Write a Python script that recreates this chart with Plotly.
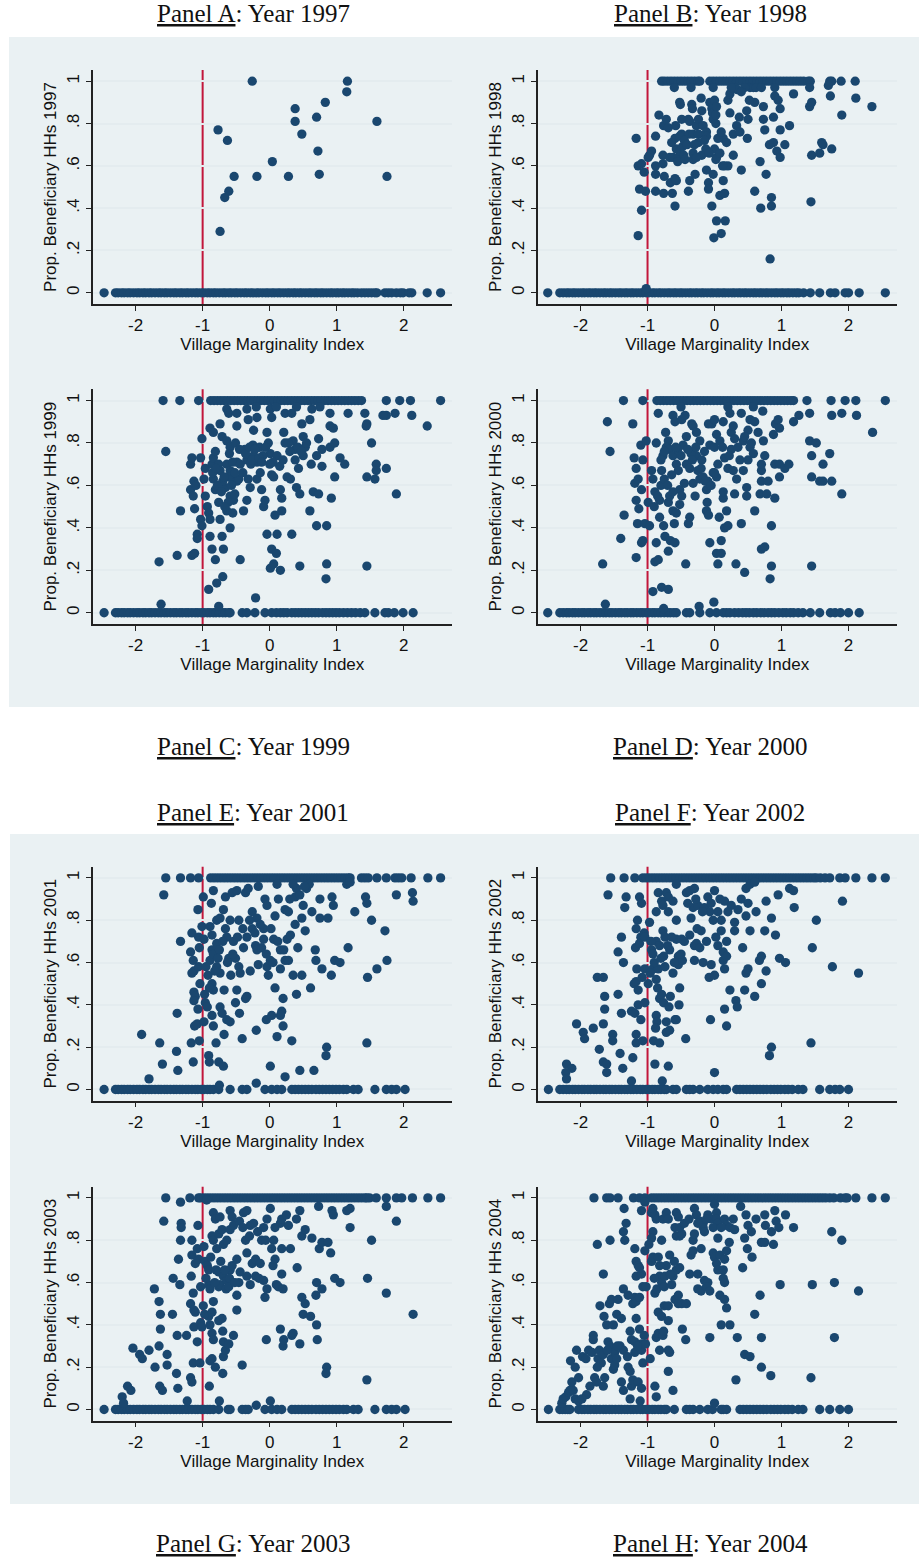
import plotly.graph_objects as go

# ---------------- DATA ----------------
# x = Village Marginality Index, y = proportion of beneficiary households

# ----- Panel A : 1997 -----
a_zero_x = [-2.47, -2.30, -2.26, -2.21, -2.17, -2.12, -2.08, -2.03, -1.98, -1.94, -1.89, -1.85, -1.80, -1.76,
            -1.71, -1.66, -1.62, -1.57, -1.53, -1.48, -1.43, -1.39, -1.34, -1.30, -1.25, -1.21, -1.16, -1.11,
            -1.07, -1.02, -0.98, -0.93, -0.89, -0.84, -0.80, -0.75, -0.70, -0.66, -0.61, -0.57, -0.52, -0.48,
            -0.43, -0.38, -0.34, -0.29, -0.25, -0.20, -0.16, -0.11, -0.06, -0.02, 0.03, 0.07, 0.12, 0.16, 0.21,
            0.26, 0.30, 0.35, 0.39, 0.44, 0.48, 0.53, 0.58, 0.62, 0.67, 0.71, 0.76, 0.80, 0.85, 0.90, 0.94, 0.99,
            1.03, 1.08, 1.12, 1.17, 1.22, 1.26, 1.31, 1.37, 1.42, 1.47, 1.52, 1.57, 1.60, 1.72, 1.77, 1.82, 1.89,
            1.95, 1.99, 2.08, 2.12, 2.35, 2.55]
a_one_x = []
a_mid = [(-0.26, 1.0), (1.16, 1.0), (1.15, 0.95), (0.38, 0.87), (0.83, 0.90), (0.38, 0.81), (0.70, 0.83),
         (0.48, 0.75), (1.60, 0.81), (-0.77, 0.77), (-0.63, 0.72), (0.72, 0.67), (0.04, 0.62), (-0.53, 0.55),
         (-0.19, 0.55), (0.28, 0.55), (0.74, 0.56), (1.75, 0.55), (-0.61, 0.48), (-0.67, 0.45), (-0.74, 0.29)]

# ----- Panel B : 1998 -----
b_zero_x = [-2.49, -2.31, -2.26, -2.21, -2.17, -2.12, -2.08, -2.03, -1.98, -1.94, -1.89, -1.85, -1.80, -1.76,
            -1.71, -1.66, -1.62, -1.57, -1.53, -1.48, -1.43, -1.39, -1.34, -1.30, -1.25, -1.21, -1.16, -1.11,
            -1.07, -1.02, -0.98, -0.93, -0.89, -0.84, -0.80, -0.75, -0.70, -0.66, -0.61, -0.57, -0.52, -0.48,
            -0.43, -0.38, -0.34, -0.29, -0.25, -0.20, -0.16, -0.11, -0.06, -0.02, 0.03, 0.07, 0.12, 0.16, 0.21,
            0.26, 0.30, 0.35, 0.39, 0.44, 0.48, 0.53, 0.58, 0.62, 0.67, 0.71, 0.76, 0.80, 0.85, 0.90, 0.94, 0.99,
            1.03, 1.08, 1.12, 1.17, 1.22, 1.26, 1.33, 1.43, 1.57, 1.73, 1.80, 1.95, 2.00, 2.16, 2.55]
b_one_x = [-0.79, -0.75, -0.70, -0.65, -0.60, -0.55, -0.50, -0.45, -0.40, -0.35, -0.30, -0.25, -0.22, -0.07,
           -0.02, 0.03, 0.08, 0.13, 0.18, 0.23, 0.28, 0.33, 0.38, 0.43, 0.48, 0.53, 0.58, 0.63, 0.68, 0.73, 0.78,
           0.83, 0.88, 0.93, 0.98, 1.03, 1.08, 1.13, 1.18, 1.23, 1.28, 1.33, 1.40, 1.43, 1.72, 1.75, 1.89, 2.10]
b_mid = [(-1.17, 0.73), (-1.14, 0.60), (-1.09, 0.61), (-1.05, 0.57), (-1.12, 0.49), (-1.03, 0.48), (-1.09, 0.39),
         (-1.14, 0.27), (-0.94, 0.67), (-0.97, 0.65), (-0.99, 0.64), (-0.88, 0.74), (-0.83, 0.84), (-0.88, 0.60),
         (-0.88, 0.56), (-0.88, 0.48), (-0.77, 0.65), (-0.77, 0.61), (-0.76, 0.79), (-0.72, 0.82), (-0.75, 0.55),
         (-0.76, 0.47), (-0.69, 0.78), (-0.67, 0.64), (-0.66, 0.52), (-0.63, 0.47), (-0.59, 0.54), (-0.57, 0.53),
         (-0.59, 0.41), (-0.62, 0.64), (-0.57, 0.68), (-0.54, 0.64), (-0.52, 0.67), (-0.58, 0.79), (-0.59, 0.73),
         (-0.52, 0.90), (-0.51, 0.89), (-0.49, 0.82), (-0.49, 0.75), (-0.52, 0.74), (-0.48, 0.69), (-0.46, 0.65),
         (-0.39, 0.82), (-0.37, 0.81), (-0.38, 0.75), (-0.39, 0.48), (-0.37, 0.53), (-0.34, 0.89), (-0.33, 0.87),
         (-0.32, 0.75), (-0.32, 0.66), (-0.32, 0.63), (-0.29, 0.56), (-0.27, 0.79), (-0.24, 0.82), (-0.24, 0.75),
         (-0.24, 0.71), (-0.20, 0.92), (-0.19, 0.86), (-0.19, 0.65), (-0.17, 0.79), (-0.12, 0.76), (-0.12, 0.74),
         (-0.13, 0.68), (-0.12, 0.58), (-0.09, 0.52), (-0.09, 0.49), (-0.07, 0.90), (-0.04, 0.87), (-0.03, 0.85),
         (-0.02, 0.82), (-0.02, 0.56), (-0.04, 0.41), (0.00, 0.91), (0.03, 0.88), (0.02, 0.84), (0.02, 0.80),
         (-0.02, 0.97), (0.00, 0.68), (0.03, 0.64), (0.02, 0.63), (0.03, 0.34), (-0.01, 0.26), (0.10, 0.28),
         (0.16, 0.34), (0.08, 0.46), (0.13, 0.53), (0.15, 0.47), (0.13, 0.73), (0.18, 0.71), (0.15, 0.60),
         (0.20, 0.60), (0.20, 0.91), (0.23, 0.85), (0.23, 0.94), (0.28, 0.65), (0.28, 0.75), (0.30, 0.97),
         (0.34, 0.96), (0.33, 0.79), (0.37, 0.83), (0.38, 0.76), (0.40, 0.58), (0.48, 0.86), (0.50, 0.82),
         (0.49, 0.73), (0.53, 0.97), (0.58, 0.97), (0.60, 0.90), (0.52, 0.91), (0.60, 0.48), (0.68, 0.62),
         (0.73, 0.88), (0.73, 0.82), (0.75, 0.77), (0.77, 0.56), (0.82, 0.70), (0.88, 0.71), (0.88, 0.83),
         (0.90, 0.93), (0.95, 0.91), (0.93, 0.67), (0.98, 0.64), (0.98, 0.77), (0.98, 0.87), (0.85, 0.45),
         (0.85, 0.41), (0.69, 0.40), (0.83, 0.16), (1.05, 0.70), (1.12, 0.79), (1.18, 0.94), (1.42, 0.97),
         (1.42, 0.88), (1.45, 0.90), (1.45, 0.65), (1.57, 0.66), (1.60, 0.71), (1.62, 0.70), (1.75, 0.68),
         (1.44, 0.43), (1.70, 0.98), (1.73, 0.93), (1.90, 0.84), (2.11, 0.92), (2.35, 0.88), (-1.02, 0.02),
         (-0.45, 0.72), (-0.41, 0.70), (-0.30, 0.70), (-0.15, 0.72), (-0.64, 0.71), (-0.55, 0.62), (-0.44, 0.63),
         (-0.27, 0.64), (-0.08, 0.66), (0.05, 0.73), (0.08, 0.66), (0.12, 0.60), (0.25, 0.97), (0.45, 0.97),
         (0.62, 0.97), (0.10, 0.76), (-0.60, 0.97), (-0.35, 0.97), (0.70, 0.97), (0.90, 0.97), (0.40, 0.95)]

# ----- Panel C : 1999 -----
c_zero_x = [-2.47, -2.30, -2.26, -2.21, -2.17, -2.12, -2.08, -2.03, -1.98, -1.94, -1.89, -1.85, -1.80, -1.76,
            -1.71, -1.66, -1.62, -1.57, -1.53, -1.48, -1.43, -1.39, -1.34, -1.30, -1.25, -1.21, -1.16, -1.11,
            -1.07, -1.02, -0.98, -0.93, -0.89, -0.84, -0.80, -0.75, -0.70, -0.66, -0.61, -0.59, -0.41, -0.34,
            -0.22, -0.07, 0.03, 0.10, 0.16, 0.21, 0.26, 0.33, 0.38, 0.43, 0.48, 0.53, 0.58, 0.63, 0.68, 0.73,
            0.79, 0.84, 0.89, 0.94, 0.99, 1.04, 1.10, 1.16, 1.22, 1.28, 1.35, 1.42, 1.57, 1.72, 1.77, 1.86,
            1.99, 2.14]
c_one_x = [-1.59, -1.34, -1.06, -0.88, -0.83, -0.78, -0.73, -0.68, -0.63, -0.58, -0.53, -0.48, -0.43, -0.38,
           -0.33, -0.28, -0.23, -0.18, -0.13, -0.08, -0.03, 0.02, 0.07, 0.12, 0.17, 0.22, 0.27, 0.32, 0.37, 0.42,
           0.47, 0.52, 0.57, 0.62, 0.67, 0.72, 0.77, 0.82, 0.87, 0.92, 0.97, 1.02, 1.07, 1.12, 1.17, 1.22, 1.27,
           1.32, 1.37, 1.74, 1.94, 2.10, 2.55]
c_mid = [(-1.65, 0.24), (-1.55, 0.76), (-1.33, 0.48), (-1.38, 0.27), (-1.18, 0.70), (-1.16, 0.73), (-1.18, 0.58),
         (-1.13, 0.62), (-1.10, 0.60), (-1.14, 0.55), (-1.12, 0.49), (-1.16, 0.27), (-1.12, 0.28), (-1.08, 0.37),
         (-1.08, 0.35), (-1.03, 0.73), (-1.01, 0.82), (-1.03, 0.44), (-1.01, 0.41), (-0.98, 0.63), (-0.96, 0.68),
         (-0.96, 0.55), (-0.93, 0.50), (-0.91, 0.47), (-0.89, 0.44), (-0.91, 0.11), (-0.89, 0.87), (-0.84, 0.85),
         (-0.86, 0.70), (-0.84, 0.73), (-0.89, 0.36), (-0.86, 0.30), (-0.81, 0.76), (-0.84, 0.63), (-0.81, 0.58),
         (-0.81, 0.25), (-0.79, 0.14), (-0.76, 0.03), (-0.74, 0.89), (-0.71, 0.83), (-0.76, 0.70), (-0.74, 0.67),
         (-0.76, 0.52), (-0.74, 0.44), (-0.71, 0.36), (-0.69, 0.30), (-0.70, 0.17), (-0.64, 0.96), (-0.61, 0.94),
         (-0.64, 0.81), (-0.59, 0.78), (-0.64, 0.70), (-0.59, 0.67), (-0.61, 0.64), (-0.56, 0.63), (-0.59, 0.55),
         (-0.54, 0.53), (-0.64, 0.48), (-0.59, 0.40), (-0.49, 0.94), (-0.49, 0.88), (-0.51, 0.80), (-0.49, 0.71),
         (-0.49, 0.62), (-0.46, 0.63), (-0.44, 0.25), (-0.39, 0.48), (-0.34, 0.53), (-0.37, 0.77), (-0.34, 0.72),
         (-0.34, 0.96), (-0.32, 0.91), (-0.32, 0.63), (-0.29, 0.59), (-0.24, 0.86), (-0.19, 0.92), (-0.24, 0.74),
         (-0.19, 0.71), (-0.19, 0.63), (-0.21, 0.07), (-0.14, 0.66), (-0.12, 0.58), (-0.09, 0.50), (-0.07, 0.53),
         (-0.04, 0.85), (-0.02, 0.80), (0.01, 0.75), (-0.04, 0.37), (0.01, 0.96), (0.03, 0.92), (0.03, 0.65),
         (0.06, 0.64), (0.01, 0.21), (0.06, 0.23), (0.03, 0.30), (0.10, 0.28), (0.08, 0.46), (0.11, 0.37),
         (0.16, 0.20), (0.11, 0.74), (0.15, 0.69), (0.16, 0.58), (0.18, 0.54), (0.18, 0.48), (0.21, 0.85),
         (0.23, 0.80), (0.23, 0.94), (0.33, 0.94), (0.26, 0.64), (0.31, 0.63), (0.33, 0.37), (0.35, 0.81),
         (0.38, 0.77), (0.40, 0.59), (0.45, 0.56), (0.43, 0.68), (0.45, 0.22), (0.48, 0.89), (0.50, 0.83),
         (0.53, 0.78), (0.50, 0.74), (0.60, 0.91), (0.63, 0.96), (0.60, 0.48), (0.65, 0.57), (0.73, 0.56),
         (0.70, 0.41), (0.70, 0.74), (0.73, 0.82), (0.78, 0.77), (0.78, 0.69), (0.85, 0.41), (0.85, 0.23),
         (0.84, 0.16), (0.90, 0.94), (0.90, 0.88), (0.95, 0.87), (0.90, 0.78), (0.97, 0.80), (0.92, 0.54),
         (0.97, 0.64), (1.05, 0.73), (1.12, 0.70), (1.17, 0.94), (1.42, 0.94), (1.45, 0.89), (1.44, 0.88),
         (1.45, 0.64), (1.57, 0.63), (1.59, 0.70), (1.59, 0.67), (1.52, 0.80), (1.45, 0.22), (1.74, 0.93),
         (1.69, 0.93), (1.74, 0.68), (1.87, 0.94), (1.89, 0.56), (2.12, 0.93), (2.35, 0.88), (-1.62, 0.04),
         (-0.55, 0.71), (-0.45, 0.77), (-0.25, 0.79), (-0.10, 0.74), (-0.66, 0.59), (-0.52, 0.56), (-0.28, 0.70),
         (0.05, 0.71), (0.38, 0.72), (0.55, 0.80), (-0.70, 0.62), (-0.40, 0.66), (-0.15, 0.78), (0.28, 0.80),
         (0.62, 0.70), (0.40, 0.97), (-0.20, 0.97), (0.75, 0.97), (0.10, 0.97), (-0.60, 0.75)]
c_mid_core = [(-0.85, 0.66), (-0.78, 0.60), (-0.72, 0.57), (-0.68, 0.64), (-0.62, 0.52), (-0.57, 0.60),
              (-0.52, 0.66), (-0.44, 0.70), (-0.36, 0.75), (-0.30, 0.78), (-0.26, 0.72), (-0.22, 0.77),
              (-0.16, 0.73), (-0.12, 0.71), (-0.06, 0.78), (0.00, 0.70), (0.20, 0.72), (0.30, 0.76),
              (0.42, 0.78), (0.47, 0.76), (-0.80, 0.68), (-0.67, 0.50), (-0.55, 0.47)]

# ----- Panel D : 2000 -----
d_zero_x = [-2.49, -2.31, -2.26, -2.21, -2.17, -2.12, -2.08, -2.03, -1.98, -1.94, -1.89, -1.85, -1.80, -1.76,
            -1.71, -1.66, -1.62, -1.57, -1.53, -1.48, -1.43, -1.39, -1.34, -1.30, -1.25, -1.21, -1.16, -1.11,
            -1.07, -1.02, -0.98, -0.93, -0.89, -0.84, -0.80, -0.75, -0.70, -0.66, -0.61, -0.57, -0.42, -0.37,
            -0.22, -0.07, 0.03, 0.13, 0.18, 0.23, 0.30, 0.36, 0.42, 0.47, 0.52, 0.58, 0.63, 0.69, 0.74, 0.80,
            0.85, 0.90, 0.96, 1.02, 1.07, 1.13, 1.18, 1.25, 1.32, 1.43, 1.57, 1.73, 1.80, 1.88, 2.00, 2.16]
d_one_x = [-1.36, -1.07, -0.86, -0.81, -0.76, -0.71, -0.66, -0.61, -0.56, -0.51, -0.46, -0.41, -0.36, -0.31,
           -0.26, -0.21, -0.16, -0.11, -0.06, -0.01, 0.04, 0.09, 0.14, 0.19, 0.24, 0.29, 0.34, 0.39, 0.44, 0.49,
           0.54, 0.59, 0.64, 0.69, 0.74, 0.79, 0.84, 0.89, 0.94, 0.99, 1.04, 1.09, 1.14, 1.18, 1.38, 1.74, 1.95,
           2.11, 2.55]
d_mid = [(-1.67, 0.23), (-1.60, 0.90), (-1.56, 0.76), (-1.40, 0.35), (-1.35, 0.46), (-1.22, 0.89), (-1.20, 0.73),
         (-1.17, 0.68), (-1.19, 0.61), (-1.14, 0.63), (-1.17, 0.53), (-1.13, 0.49), (-1.15, 0.42), (-1.17, 0.26),
         (-1.09, 0.58), (-1.10, 0.79), (-1.09, 0.33), (-1.07, 0.34), (-1.07, 0.72), (-1.02, 0.81), (-1.04, 0.42),
         (-0.99, 0.52), (-0.97, 0.41), (-0.94, 0.67), (-0.92, 0.63), (-0.89, 0.57), (-0.92, 0.10), (-0.79, 0.12),
         (-0.69, 0.11), (-0.89, 0.24), (-0.87, 0.33), (-0.84, 0.25), (-0.87, 0.80), (-0.84, 0.94), (-0.82, 0.45),
         (-0.82, 0.53), (-0.79, 0.67), (-0.77, 0.74), (-0.76, 0.41), (-0.74, 0.36), (-0.73, 0.85), (-0.69, 0.81),
         (-0.72, 0.78), (-0.67, 0.77), (-0.69, 0.52), (-0.67, 0.55), (-0.69, 0.29), (-0.66, 0.34), (-0.62, 0.93),
         (-0.59, 0.90), (-0.62, 0.74), (-0.57, 0.70), (-0.62, 0.48), (-0.57, 0.47), (-0.59, 0.33), (-0.54, 0.67),
         (-0.52, 0.58), (-0.49, 0.55), (-0.52, 0.51), (-0.49, 0.91), (-0.44, 0.93), (-0.47, 0.79), (-0.42, 0.83),
         (-0.42, 0.70), (-0.37, 0.68), (-0.39, 0.42), (-0.37, 0.45), (-0.43, 0.23), (-0.34, 0.89), (-0.32, 0.88),
         (-0.32, 0.61), (-0.29, 0.55), (-0.27, 0.85), (-0.22, 0.81), (-0.27, 0.74), (-0.19, 0.72), (-0.23, 0.03),
         (-0.22, 0.63), (-0.17, 0.64), (-0.12, 0.58), (-0.11, 0.52), (-0.12, 0.48), (-0.09, 0.46), (-0.09, 0.89),
         (-0.04, 0.89), (-0.07, 0.79), (0.00, 0.78), (-0.07, 0.33), (-0.02, 0.66), (0.03, 0.64), (0.00, 0.91),
         (-0.01, 0.05), (0.03, 0.84), (0.08, 0.81), (0.05, 0.23), (0.03, 0.28), (0.10, 0.28), (0.07, 0.45),
         (0.13, 0.54), (0.13, 0.57), (0.10, 0.34), (0.13, 0.90), (0.15, 0.73), (0.20, 0.68), (0.15, 0.40),
         (0.20, 0.41), (0.18, 0.48), (0.23, 0.94), (0.25, 0.85), (0.28, 0.88), (0.25, 0.77), (0.28, 0.67),
         (0.30, 0.56), (0.32, 0.23), (0.33, 0.63), (0.38, 0.72), (0.40, 0.42), (0.40, 0.94), (0.43, 0.81),
         (0.43, 0.67), (0.45, 0.19), (0.48, 0.59), (0.48, 0.55), (0.50, 0.86), (0.53, 0.91), (0.53, 0.78),
         (0.58, 0.75), (0.60, 0.48), (0.60, 0.90), (0.58, 0.97), (0.68, 0.56), (0.70, 0.67), (0.70, 0.70),
         (0.70, 0.62), (0.78, 0.56), (0.70, 0.30), (0.75, 0.31), (0.73, 0.81), (0.75, 0.74), (0.72, 0.95),
         (0.80, 0.62), (0.85, 0.41), (0.85, 0.22), (0.83, 0.16), (0.90, 0.54), (0.88, 0.84), (0.91, 0.89),
         (0.95, 0.91), (0.97, 0.87), (0.90, 0.70), (0.97, 0.70), (0.97, 0.64), (1.05, 0.68), (1.11, 0.70),
         (1.18, 0.90), (1.26, 0.93), (1.42, 0.94), (1.45, 0.74), (1.45, 0.64), (1.42, 0.81), (1.52, 0.80),
         (1.57, 0.62), (1.62, 0.62), (1.62, 0.70), (1.72, 0.75), (1.75, 0.62), (1.45, 0.22), (1.75, 0.93),
         (1.90, 0.94), (1.90, 0.56), (2.12, 0.93), (2.36, 0.85), (-0.76, 0.02), (-1.63, 0.04), (-0.80, 0.60),
         (-0.75, 0.63), (-0.55, 0.77), (-0.35, 0.75), (-0.25, 0.67), (-0.15, 0.76), (0.05, 0.70), (-0.62, 0.57),
         (-0.45, 0.61), (0.35, 0.78), (0.50, 0.72), (0.20, 0.97), (-0.50, 0.97), (0.65, 0.85), (-0.10, 0.62)]
d_mid_core = [(-0.85, 0.55), (-0.80, 0.72), (-0.75, 0.76), (-0.70, 0.60), (-0.64, 0.65), (-0.58, 0.78),
              (-0.50, 0.74), (-0.40, 0.77), (-0.33, 0.72), (-0.28, 0.78), (-0.20, 0.68), (-0.14, 0.62),
              (-0.05, 0.60), (0.00, 0.66), (0.12, 0.78), (0.22, 0.74), (0.30, 0.82), (0.45, 0.83),
              (0.55, 0.80), (-0.90, 0.50), (-0.60, 0.42)]

# ----- Panel E : 2001 -----
e_zero_x = [-2.47, -2.30, -2.26, -2.21, -2.17, -2.12, -2.08, -2.03, -1.98, -1.94, -1.89, -1.85, -1.80, -1.76,
            -1.71, -1.66, -1.62, -1.57, -1.53, -1.48, -1.43, -1.39, -1.34, -1.30, -1.25, -1.21, -1.16, -1.11,
            -1.07, -1.02, -0.98, -0.93, -0.89, -0.84, -0.76, -0.59, -0.41, -0.34, -0.07, 0.03, 0.11, 0.18, 0.33,
            0.38, 0.43, 0.48, 0.53, 0.58, 0.63, 0.69, 0.74, 0.79, 0.84, 0.89, 0.94, 0.99, 1.04, 1.10, 1.15, 1.25,
            1.32, 1.57, 1.74, 1.82, 1.89, 2.02]
e_one_x = [-1.55, -1.33, -1.18, -1.06, -0.88, -0.83, -0.78, -0.73, -0.68, -0.63, -0.58, -0.53, -0.48, -0.43,
           -0.38, -0.33, -0.28, -0.23, -0.18, -0.13, -0.08, -0.03, 0.02, 0.07, 0.12, 0.17, 0.22, 0.27, 0.32, 0.37,
           0.42, 0.47, 0.52, 0.57, 0.62, 0.67, 0.72, 0.77, 0.82, 0.87, 0.92, 0.97, 1.02, 1.07, 1.12, 1.17, 1.20,
           1.37, 1.42, 1.47, 1.60, 1.74, 1.87, 1.92, 1.97, 2.11, 2.36, 2.55]
e_mid = [(-1.91, 0.26), (-1.80, 0.05), (-1.64, 0.22), (-1.60, 0.12), (-1.58, 0.92), (-1.39, 0.18), (-1.37, 0.09),
         (-1.33, 0.70), (-1.38, 0.36), (-1.17, 0.22), (-1.14, 0.13), (-1.18, 0.65), (-1.16, 0.74), (-1.14, 0.61),
         (-1.13, 0.56), (-1.16, 0.55), (-1.13, 0.46), (-1.11, 0.44), (-1.13, 0.42), (-1.12, 0.30), (-1.08, 0.31),
         (-1.07, 0.85), (-1.06, 0.72), (-1.05, 0.67), (-1.05, 0.23), (-1.06, 0.58), (-1.04, 0.50), (-1.07, 0.38),
         (-0.99, 0.91), (-1.01, 0.77), (-0.98, 0.71), (-0.98, 0.32), (-0.96, 0.41), (-0.93, 0.39), (-0.91, 0.16),
         (-0.90, 0.13), (-0.92, 0.54), (-0.89, 0.61), (-0.89, 0.77), (-0.86, 0.73), (-0.86, 0.66), (-0.84, 0.64),
         (-0.86, 0.50), (-0.84, 0.47), (-0.87, 0.88), (-0.84, 0.94), (-0.86, 0.35), (-0.84, 0.30), (-0.80, 0.22),
         (-0.79, 0.80), (-0.74, 0.81), (-0.79, 0.69), (-0.75, 0.66), (-0.79, 0.58), (-0.74, 0.55), (-0.76, 0.13),
         (-0.69, 0.11), (-0.74, 0.39), (-0.71, 0.36), (-0.75, 0.02), (-0.69, 0.85), (-0.66, 0.91), (-0.66, 0.76),
         (-0.64, 0.72), (-0.68, 0.47), (-0.64, 0.33), (-0.68, 0.26), (-0.61, 0.62), (-0.58, 0.54), (-0.59, 0.80),
         (-0.54, 0.70), (-0.59, 0.32), (-0.56, 0.93), (-0.49, 0.94), (-0.51, 0.62), (-0.46, 0.58), (-0.49, 0.47),
         (-0.51, 0.41), (-0.46, 0.80), (-0.44, 0.55), (-0.45, 0.36), (-0.41, 0.24), (-0.36, 0.43), (-0.34, 0.44),
         (-0.39, 0.67), (-0.34, 0.72), (-0.36, 0.93), (-0.32, 0.95), (-0.29, 0.56), (-0.26, 0.76), (-0.26, 0.84),
         (-0.19, 0.81), (-0.21, 0.68), (-0.19, 0.66), (-0.20, 0.28), (-0.20, 0.03), (-0.17, 0.59), (-0.12, 0.67),
         (-0.17, 0.96), (-0.09, 0.76), (-0.09, 0.71), (-0.07, 0.90), (-0.04, 0.87), (-0.04, 0.58), (-0.02, 0.54),
         (0.01, 0.61), (-0.05, 0.33), (0.03, 0.35), (0.01, 0.11), (0.02, 0.76), (0.06, 0.71), (0.08, 0.82),
         (0.11, 0.97), (0.08, 0.48), (0.11, 0.25), (0.13, 0.90), (0.16, 0.57), (0.16, 0.66), (0.18, 0.37),
         (0.16, 0.35), (0.20, 0.30), (0.20, 0.43), (0.21, 0.66), (0.23, 0.61), (0.23, 0.06), (0.23, 0.85),
         (0.28, 0.84), (0.26, 0.71), (0.31, 0.73), (0.28, 0.61), (0.33, 0.23), (0.35, 0.54), (0.38, 0.91),
         (0.40, 0.95), (0.38, 0.78), (0.42, 0.67), (0.40, 0.45), (0.45, 0.09), (0.48, 0.54), (0.48, 0.81),
         (0.50, 0.87), (0.53, 0.75), (0.55, 0.95), (0.59, 0.97), (0.63, 0.84), (0.61, 0.48), (0.68, 0.66),
         (0.69, 0.61), (0.66, 0.09), (0.75, 0.90), (0.75, 0.81), (0.78, 0.57), (0.87, 0.81), (0.85, 0.20),
         (0.84, 0.16), (0.92, 0.54), (0.93, 0.91), (0.95, 0.87), (0.97, 0.61), (1.05, 0.60), (1.15, 0.97),
         (1.20, 0.98), (1.17, 0.67), (1.27, 0.84), (1.43, 0.91), (1.45, 0.88), (1.46, 0.53), (1.52, 0.80),
         (1.45, 0.22), (1.60, 0.57), (1.72, 0.75), (1.75, 0.61), (1.89, 0.92), (2.13, 0.93), (2.14, 0.89)]
e_mid_core = [(-0.95, 0.58), (-0.90, 0.48), (-0.82, 0.56), (-0.77, 0.62), (-0.70, 0.70), (-0.63, 0.60),
              (-0.55, 0.64), (-0.48, 0.72), (-0.40, 0.76), (-0.30, 0.80), (-0.22, 0.74), (-0.14, 0.78),
              (-0.05, 0.64), (0.05, 0.60), (0.12, 0.70), (0.30, 0.90), (0.45, 0.92), (0.52, 0.96),
              (0.35, 0.97), (-0.97, 0.45)]

# ----- Panel F : 2002 -----
f_zero_x = [-2.48, -2.31, -2.26, -2.21, -2.17, -2.12, -2.08, -2.03, -1.98, -1.94, -1.89, -1.85, -1.80, -1.76,
            -1.71, -1.66, -1.62, -1.57, -1.53, -1.48, -1.43, -1.39, -1.34, -1.30, -1.25, -1.21, -1.16, -1.11,
            -1.07, -1.02, -0.98, -0.93, -0.89, -0.84, -0.80, -0.75, -0.72, -0.62, -0.57, -0.42, -0.37, -0.32,
            -0.22, -0.10, -0.02, 0.05, 0.13, 0.18, 0.33, 0.38, 0.43, 0.48, 0.53, 0.58, 0.63, 0.68, 0.73, 0.78,
            0.84, 0.89, 0.94, 0.99, 1.05, 1.10, 1.16, 1.25, 1.32, 1.57, 1.72, 1.80, 1.87, 2.00]
f_one_x = [-1.55, -1.35, -1.19, -1.07, -1.02, -0.97, -0.92, -0.87, -0.82, -0.77, -0.72, -0.67, -0.62, -0.57,
           -0.52, -0.47, -0.42, -0.37, -0.32, -0.27, -0.22, -0.17, -0.12, -0.07, -0.02, 0.03, 0.08, 0.13, 0.18,
           0.23, 0.28, 0.33, 0.38, 0.43, 0.48, 0.53, 0.58, 0.63, 0.68, 0.73, 0.78, 0.83, 0.88, 0.93, 0.98, 1.03,
           1.08, 1.13, 1.18, 1.23, 1.28, 1.33, 1.38, 1.43, 1.48, 1.52, 1.58, 1.65, 1.72, 1.87, 1.95, 2.11, 2.35,
           2.55]
f_mid = [(-2.21, 0.12), (-2.13, 0.10), (-2.22, 0.08), (-2.21, 0.05), (-2.06, 0.31), (-1.96, 0.27), (-1.94, 0.24),
         (-1.81, 0.29), (-1.75, 0.53), (-1.66, 0.53), (-1.72, 0.19), (-1.66, 0.31), (-1.64, 0.44), (-1.64, 0.38),
         (-1.66, 0.13), (-1.61, 0.12), (-1.61, 0.08), (-1.59, 0.92), (-1.52, 0.26), (-1.52, 0.23), (-1.44, 0.65),
         (-1.44, 0.45), (-1.41, 0.17), (-1.39, 0.72), (-1.39, 0.36), (-1.36, 0.60), (-1.37, 0.10), (-1.34, 0.86),
         (-1.32, 0.91), (-1.24, 0.04), (-1.22, 0.15), (-1.24, 0.37), (-1.19, 0.36), (-1.20, 0.50), (-1.17, 0.51),
         (-1.18, 0.67), (-1.16, 0.57), (-1.17, 0.76), (-1.15, 0.80), (-1.17, 0.26), (-1.17, 0.22), (-1.14, 0.47),
         (-1.14, 0.40), (-1.12, 0.91), (-1.09, 0.88), (-1.12, 0.69), (-1.10, 0.72), (-1.10, 0.33), (-1.08, 0.53),
         (-1.07, 0.23), (-1.05, 0.74), (-1.04, 0.72), (-1.04, 0.57), (-1.04, 0.41), (-0.99, 0.50), (-0.97, 0.79),
         (-0.94, 0.66), (-0.92, 0.64), (-0.92, 0.57), (-0.91, 0.23), (-0.89, 0.12), (-0.82, 0.22), (-0.87, 0.35),
         (-0.86, 0.32), (-0.88, 0.29), (-0.87, 0.52), (-0.84, 0.57), (-0.87, 0.84), (-0.84, 0.93), (-0.87, 0.70),
         (-0.82, 0.68), (-0.82, 0.43), (-0.79, 0.45), (-0.79, 0.89), (-0.77, 0.87), (-0.78, 0.04), (-0.77, 0.75),
         (-0.74, 0.72), (-0.76, 0.63), (-0.74, 0.58), (-0.76, 0.41), (-0.72, 0.93), (-0.69, 0.91), (-0.72, 0.32),
         (-0.72, 0.27), (-0.67, 0.28), (-0.69, 0.11), (-0.68, 0.39), (-0.66, 0.44), (-0.69, 0.84), (-0.62, 0.89),
         (-0.67, 0.66), (-0.62, 0.55), (-0.59, 0.33), (-0.57, 0.33), (-0.57, 0.97), (-0.57, 0.80), (-0.57, 0.71),
         (-0.54, 0.63), (-0.54, 0.59), (-0.52, 0.61), (-0.52, 0.48), (-0.53, 0.40), (-0.49, 0.71), (-0.48, 0.61),
         (-0.42, 0.93), (-0.37, 0.94), (-0.43, 0.24), (-0.37, 0.73), (-0.35, 0.81), (-0.32, 0.86), (-0.30, 0.95),
         (-0.30, 0.68), (-0.30, 0.61), (-0.27, 0.69), (-0.26, 0.76), (-0.25, 0.87), (-0.22, 0.67), (-0.20, 0.75),
         (-0.17, 0.60), (-0.15, 0.86), (-0.12, 0.70), (-0.10, 0.91), (-0.07, 0.84), (-0.08, 0.53), (-0.05, 0.59),
         (-0.06, 0.33), (-0.02, 0.80), (0.00, 0.94), (0.00, 0.54), (0.00, 0.08), (0.02, 0.72), (0.05, 0.68),
         (0.08, 0.90), (0.10, 0.80), (0.10, 0.75), (0.13, 0.65), (0.13, 0.61), (0.15, 0.57), (0.15, 0.38),
         (0.18, 0.30), (0.18, 0.70), (0.18, 0.63), (0.15, 0.89), (0.25, 0.87), (0.23, 0.47), (0.30, 0.79),
         (0.30, 0.75), (0.32, 0.42), (0.34, 0.39), (0.40, 0.90), (0.42, 0.67), (0.45, 0.47), (0.47, 0.95),
         (0.50, 0.88), (0.47, 0.82), (0.53, 0.75), (0.47, 0.55), (0.50, 0.57), (0.53, 0.97), (0.60, 0.98),
         (0.60, 0.44), (0.62, 0.84), (0.67, 0.61), (0.70, 0.63), (0.70, 0.50), (0.75, 0.75), (0.77, 0.89),
         (0.77, 0.56), (0.85, 0.81), (0.85, 0.20), (0.82, 0.16), (0.91, 0.73), (0.95, 0.92), (0.97, 0.62),
         (1.06, 0.60), (1.12, 0.95), (1.18, 0.94), (1.19, 0.86), (1.46, 0.67), (1.52, 0.80), (1.44, 0.22),
         (1.76, 0.58), (1.91, 0.89), (2.15, 0.55)]
f_mid_core = [(-0.95, 0.70), (-0.90, 0.60), (-0.80, 0.62), (-0.70, 0.68), (-0.64, 0.72), (-0.60, 0.60),
              (-0.50, 0.64), (-0.45, 0.70), (-0.40, 0.88), (-0.28, 0.90), (-0.18, 0.84), (-0.05, 0.88),
              (0.05, 0.84), (0.20, 0.84), (0.35, 0.85), (-0.96, 0.55), (-0.85, 0.48)]

# ----- Panel G : 2003 -----
g_zero_x = [-2.47, -2.30, -2.26, -2.21, -2.17, -2.12, -2.08, -2.03, -1.98, -1.94, -1.89, -1.85, -1.80, -1.76,
            -1.71, -1.66, -1.62, -1.57, -1.53, -1.48, -1.43, -1.39, -1.34, -1.30, -1.25, -1.21, -1.16, -1.11,
            -1.07, -1.02, -0.98, -0.93, -0.89, -0.84, -0.76, -0.62, -0.59, -0.41, -0.36, -0.32, -0.07, 0.03,
            0.11, 0.18, 0.33, 0.38, 0.43, 0.48, 0.53, 0.58, 0.63, 0.69, 0.74, 0.79, 0.84, 0.89, 0.94, 0.99, 1.04,
            1.10, 1.15, 1.25, 1.32, 1.57, 1.74, 1.82, 1.89, 2.02]
g_one_x = [-1.55, -1.19, -1.06, -1.03, -0.98, -0.93, -0.88, -0.83, -0.78, -0.73, -0.68, -0.63, -0.58, -0.53,
           -0.48, -0.43, -0.38, -0.33, -0.28, -0.23, -0.18, -0.13, -0.08, -0.03, 0.02, 0.07, 0.12, 0.17, 0.22,
           0.27, 0.32, 0.37, 0.42, 0.47, 0.52, 0.57, 0.62, 0.67, 0.72, 0.77, 0.82, 0.87, 0.92, 0.97, 1.02, 1.07,
           1.12, 1.17, 1.22, 1.27, 1.32, 1.37, 1.42, 1.45, 1.49, 1.59, 1.74, 1.89, 1.97, 2.13, 2.36, 2.55]
g_mid = [(-2.20, 0.06), (-2.18, 0.03), (-2.12, 0.11), (-2.07, 0.09), (-2.04, 0.29), (-1.94, 0.26), (-1.90, 0.24),
         (-1.80, 0.28), (-1.72, 0.57), (-1.71, 0.20), (-1.65, 0.51), (-1.63, 0.45), (-1.63, 0.38), (-1.65, 0.30),
         (-1.64, 0.11), (-1.60, 0.09), (-1.58, 0.89), (-1.53, 0.26), (-1.53, 0.21), (-1.45, 0.45), (-1.44, 0.62),
         (-1.38, 0.35), (-1.39, 0.17), (-1.37, 0.10), (-1.36, 0.71), (-1.34, 0.59), (-1.33, 0.80), (-1.32, 0.88),
         (-1.32, 0.86), (-1.33, 0.98), (-1.24, 0.35), (-1.23, 0.04), (-1.18, 0.15), (-1.16, 0.13), (-1.17, 0.63),
         (-1.16, 0.73), (-1.16, 0.80), (-1.18, 0.50), (-1.14, 0.55), (-1.13, 0.47), (-1.11, 0.46), (-1.14, 0.22),
         (-1.04, 0.22), (-1.13, 0.39), (-1.08, 0.32), (-1.08, 0.76), (-1.07, 0.87), (-1.11, 0.69), (-1.06, 0.71),
         (-1.03, 0.41), (-1.01, 0.39), (-1.03, 0.58), (-0.99, 0.49), (-0.98, 0.77), (-0.96, 0.70), (-0.94, 0.99),
         (-0.93, 0.68), (-0.91, 0.66), (-0.90, 0.11), (-0.91, 0.59), (-0.89, 0.57), (-0.91, 0.44), (-0.89, 0.40),
         (-0.89, 0.23), (-0.86, 0.24), (-0.86, 0.82), (-0.84, 0.80), (-0.84, 0.93), (-0.81, 0.90), (-0.86, 0.36),
         (-0.84, 0.33), (-0.84, 0.51), (-0.81, 0.20), (-0.80, 0.66), (-0.76, 0.65), (-0.79, 0.76), (-0.76, 0.83),
         (-0.76, 0.58), (-0.74, 0.59), (-0.76, 0.42), (-0.71, 0.43), (-0.75, 0.04), (-0.74, 0.91), (-0.71, 0.85),
         (-0.70, 0.17), (-0.69, 0.25), (-0.66, 0.28), (-0.70, 0.37), (-0.69, 0.32), (-0.69, 0.78), (-0.64, 0.80),
         (-0.69, 0.63), (-0.64, 0.61), (-0.65, 0.57), (-0.61, 0.58), (-0.59, 0.66), (-0.56, 0.68), (-0.59, 0.94),
         (-0.56, 0.91), (-0.61, 0.31), (-0.54, 0.35), (-0.59, 0.85), (-0.54, 0.87), (-0.49, 0.54), (-0.49, 0.47),
         (-0.49, 0.71), (-0.46, 0.60), (-0.45, 0.89), (-0.41, 0.21), (-0.39, 0.93), (-0.34, 0.94), (-0.36, 0.80),
         (-0.34, 0.74), (-0.34, 0.63), (-0.29, 0.59), (-0.29, 0.87), (-0.24, 0.88), (-0.26, 0.69), (-0.21, 0.71),
         (-0.21, 0.63), (-0.16, 0.62), (-0.20, 0.02), (-0.14, 0.69), (-0.09, 0.61), (-0.12, 0.80), (-0.09, 0.86),
         (-0.07, 0.53), (-0.04, 0.57), (-0.05, 0.33), (-0.04, 0.90), (0.01, 0.95), (0.01, 0.04), (0.03, 0.76),
         (0.06, 0.80), (0.05, 0.68), (0.08, 0.71), (0.10, 0.59), (0.13, 0.58), (0.16, 0.38), (0.16, 0.88),
         (0.18, 0.90), (0.18, 0.76), (0.18, 0.64), (0.20, 0.30), (0.21, 0.33), (0.20, 0.57), (0.28, 0.87),
         (0.31, 0.76), (0.33, 0.35), (0.35, 0.36), (0.40, 0.90), (0.41, 0.67), (0.45, 0.31), (0.48, 0.53),
         (0.53, 0.50), (0.48, 0.82), (0.53, 0.85), (0.50, 0.45), (0.61, 0.44), (0.63, 0.81), (0.69, 0.54),
         (0.70, 0.60), (0.70, 0.40), (0.71, 0.33), (0.73, 0.96), (0.74, 0.76), (0.78, 0.79), (0.78, 0.57),
         (0.85, 0.20), (0.84, 0.17), (0.87, 0.79), (0.91, 0.74), (0.93, 0.94), (0.95, 0.92), (0.97, 0.62),
         (1.05, 0.60), (1.15, 0.94), (1.20, 0.95), (1.20, 0.86), (1.46, 0.62), (1.45, 0.14), (1.52, 0.80),
         (1.74, 0.96), (1.74, 0.55), (1.89, 0.89), (2.14, 0.45)]
g_mid_core = [(-0.95, 0.62), (-0.88, 0.72), (-0.82, 0.60), (-0.73, 0.70), (-0.67, 0.66), (-0.60, 0.62),
              (-0.52, 0.60), (-0.44, 0.65), (-0.40, 0.86), (-0.30, 0.82), (-0.18, 0.84), (-0.06, 0.80),
              (0.08, 0.86), (0.25, 0.92), (0.45, 0.94), (-0.97, 0.45), (-0.86, 0.46)]

# ----- Panel H : 2004 -----
h_zero_x = [-2.48, -2.31, -2.27, -2.23, -2.19, -2.16, -2.03, -1.98, -1.94, -1.89, -1.85, -1.80, -1.76, -1.71,
            -1.66, -1.62, -1.57, -1.53, -1.48, -1.43, -1.39, -1.34, -1.30, -1.25, -1.21, -1.16, -1.11, -1.07,
            -1.02, -0.98, -0.93, -0.89, -0.84, -0.80, -0.75, -0.72, -0.60, -0.42, -0.37, -0.32, -0.22, -0.10,
            -0.03, 0.10, 0.13, 0.18, 0.38, 0.43, 0.48, 0.53, 0.58, 0.63, 0.68, 0.73, 0.78, 0.84, 0.89, 0.94,
            0.99, 1.05, 1.10, 1.16, 1.25, 1.32, 1.57, 1.72, 1.87, 2.00]
h_one_x = [-1.80, -1.61, -1.56, -1.44, -1.21, -1.12, -1.04, -0.94, -0.89, -0.84, -0.79, -0.74, -0.69, -0.64,
           -0.59, -0.54, -0.49, -0.44, -0.39, -0.34, -0.29, -0.24, -0.19, -0.14, -0.09, -0.04, 0.01, 0.06, 0.11,
           0.16, 0.21, 0.26, 0.31, 0.36, 0.41, 0.46, 0.51, 0.56, 0.61, 0.66, 0.71, 0.76, 0.81, 0.86, 0.91, 0.96,
           1.01, 1.06, 1.11, 1.16, 1.21, 1.26, 1.31, 1.36, 1.41, 1.46, 1.51, 1.56, 1.61, 1.66, 1.72, 1.78, 1.88,
           1.95, 1.98, 2.11, 2.35, 2.55]
h_mid = [(-2.28, 0.03), (-2.26, 0.05), (-2.22, 0.06), (-2.18, 0.08), (-2.15, 0.23), (-2.08, 0.20), (-2.06, 0.28),
         (-2.16, 0.09), (-2.11, 0.09), (-2.13, 0.13), (-2.03, 0.15), (-2.08, 0.05), (-2.03, 0.04), (-1.91, 0.07),
         (-1.98, 0.05), (-1.97, 0.25), (-1.92, 0.24), (-1.88, 0.28), (-1.83, 0.27), (-1.86, 0.11), (-1.81, 0.35),
         (-1.81, 0.33), (-1.75, 0.78), (-1.79, 0.15), (-1.76, 0.13), (-1.74, 0.24), (-1.72, 0.28), (-1.71, 0.49),
         (-1.69, 0.22), (-1.66, 0.26), (-1.66, 0.64), (-1.65, 0.44), (-1.66, 0.11), (-1.64, 0.15), (-1.61, 0.40),
         (-1.59, 0.32), (-1.56, 0.30), (-1.54, 0.24), (-1.56, 0.80), (-1.57, 0.50), (-1.54, 0.52), (-1.51, 0.40),
         (-1.51, 0.19), (-1.49, 0.21), (-1.49, 0.27), (-1.46, 0.24), (-1.44, 0.52), (-1.46, 0.45), (-1.39, 0.43),
         (-1.41, 0.30), (-1.36, 0.28), (-1.39, 0.13), (-1.36, 0.09), (-1.36, 0.84), (-1.34, 0.80), (-1.35, 0.95),
         (-1.32, 0.88), (-1.36, 0.57), (-1.29, 0.20), (-1.26, 0.18), (-1.29, 0.54), (-1.22, 0.50), (-1.19, 0.53),
         (-1.26, 0.37), (-1.24, 0.33), (-1.24, 0.11), (-1.22, 0.14), (-1.26, 0.05), (-1.11, 0.04), (-1.19, 0.76),
         (-1.17, 0.70), (-1.17, 0.63), (-1.09, 0.64), (-1.14, 0.68), (-1.12, 0.67), (-1.17, 0.51), (-1.12, 0.53),
         (-1.17, 0.43), (-1.12, 0.38), (-1.19, 0.27), (-1.09, 0.28), (-1.19, 0.32), (-1.14, 0.13), (-1.09, 0.10),
         (-1.07, 0.22), (-1.09, 0.31), (-1.04, 0.75), (-1.09, 0.94), (-1.04, 0.98), (-1.03, 0.31), (-1.07, 0.58),
         (-1.02, 0.58), (-0.96, 0.24), (-0.94, 0.70), (-0.92, 0.72), (-0.92, 0.84), (-0.94, 0.81), (-0.89, 0.92),
         (-0.87, 0.90), (-0.94, 0.93), (-0.92, 0.95), (-0.89, 0.55), (-0.86, 0.57), (-0.89, 0.11), (-0.87, 0.06),
         (-0.87, 0.34), (-0.84, 0.36), (-0.84, 0.46), (-0.79, 0.44), (-0.84, 0.72), (-0.82, 0.63), (-0.82, 0.28),
         (-0.79, 0.80), (-0.77, 0.90), (-0.79, 0.60), (-0.74, 0.63), (-0.77, 0.35), (-0.76, 0.37), (-0.75, 0.49),
         (-0.69, 0.49), (-0.72, 0.93), (-0.69, 0.90), (-0.72, 0.68), (-0.67, 0.73), (-0.69, 0.18), (-0.69, 0.28),
         (-0.67, 0.27), (-0.69, 0.42), (-0.64, 0.59), (-0.62, 0.63), (-0.62, 0.09), (-0.59, 0.86), (-0.57, 0.82),
         (-0.57, 0.93), (-0.54, 0.91), (-0.57, 0.66), (-0.52, 0.67), (-0.59, 0.52), (-0.54, 0.54), (-0.54, 0.50),
         (-0.49, 0.50), (-0.52, 0.82), (-0.49, 0.83), (-0.48, 0.38), (-0.43, 0.33), (-0.42, 0.50), (-0.37, 0.64),
         (-0.35, 0.73), (-0.32, 0.75), (-0.32, 0.80), (-0.30, 0.83), (-0.30, 0.95), (-0.27, 0.92), (-0.25, 0.64),
         (-0.25, 0.57), (-0.20, 0.56), (-0.22, 0.89), (-0.17, 0.88), (-0.20, 0.76), (-0.17, 0.86), (-0.15, 0.84),
         (-0.15, 0.61), (-0.10, 0.60), (-0.12, 0.58), (-0.07, 0.56), (-0.10, 0.92), (-0.05, 0.90), (-0.07, 0.34),
         (0.00, 0.03), (-0.02, 0.74), (0.00, 0.72), (0.00, 0.97), (0.03, 0.93), (0.03, 0.90), (0.05, 0.88),
         (0.03, 0.69), (0.05, 0.66), (0.05, 0.81), (0.08, 0.73), (0.08, 0.54), (0.10, 0.40), (0.23, 0.40),
         (0.13, 0.66), (0.15, 0.71), (0.13, 0.62), (0.15, 0.60), (0.15, 0.52), (0.18, 0.48), (0.18, 0.75),
         (0.22, 0.79), (0.15, 0.90), (0.18, 0.87), (0.23, 0.86), (0.30, 0.85), (0.34, 0.34), (0.32, 0.14),
         (0.42, 0.67), (0.39, 0.96), (0.45, 0.26), (0.53, 0.25), (0.45, 0.81), (0.49, 0.76), (0.47, 0.92),
         (0.50, 0.87), (0.55, 0.84), (0.56, 0.72), (0.60, 0.45), (0.62, 0.90), (0.68, 0.54), (0.70, 0.34),
         (0.70, 0.20), (0.70, 0.79), (0.75, 0.79), (0.75, 0.92), (0.76, 0.87), (0.84, 0.16), (0.85, 0.84),
         (0.88, 0.78), (0.90, 0.94), (0.92, 0.89), (0.96, 0.86), (0.98, 0.59), (1.06, 0.92), (1.18, 0.86),
         (1.46, 0.59), (1.44, 0.15), (1.75, 0.84), (1.79, 0.60), (1.79, 0.34), (1.90, 0.80), (2.15, 0.56)]
h_mid_core = [(-0.98, 0.78), (-0.90, 0.62), (-0.82, 0.68), (-0.75, 0.58), (-0.66, 0.64), (-0.60, 0.70),
              (-0.52, 0.86), (-0.45, 0.88), (-0.38, 0.90), (-0.25, 0.88), (-0.12, 0.90), (-0.02, 0.86),
              (0.10, 0.86), (0.28, 0.90), (-1.15, 0.30), (-1.05, 0.35), (-1.30, 0.25), (-1.45, 0.30),
              (-1.60, 0.28), (-1.75, 0.20)]

panel_letters = ["A", "B", "C", "D", "E", "F", "G", "H"]
panel_years = ["1997", "1998", "1999", "2000", "2001", "2002", "2003", "2004"]
x_tick_vals = [-2, -1, 0, 1, 2]
x_tick_text = ["-2", "-1", "0", "1", "2"]
y_tick_vals = [0, 0.2, 0.4, 0.6, 0.8, 1]
y_tick_text = ["0", ".2", ".4", ".6", ".8", "1"]
cutoff = -1

panel_data = [
    (a_zero_x, a_one_x, a_mid), (b_zero_x, b_one_x, b_mid),
    (c_zero_x, c_one_x, c_mid + c_mid_core), (d_zero_x, d_one_x, d_mid + d_mid_core),
    (e_zero_x, e_one_x, e_mid + e_mid_core), (f_zero_x, f_one_x, f_mid + f_mid_core),
    (g_zero_x, g_one_x, g_mid + g_mid_core), (h_zero_x, h_one_x, h_mid + h_mid_core),
]

# ---------------- STYLE / LAYOUT ----------------
W, H = 919, 1558
NAVY = "#1a476f"
RED = "#c2163b"
BG = "#eaf1f3"
GRID = "#e4ecef"
SANS = "Liberation Sans, Arial, sans-serif"
SERIF = "Liberation Serif, Times New Roman, serif"

x_domains = [[92.7 / W, 452.0 / W], [537.7 / W, 896.7 / W]]
row_px = [(70.0, 304.0), (389.3, 624.0), (866.7, 1100.7), (1186.7, 1420.7)]
y_domains = [[1 - b / H, 1 - t / H] for (t, b) in row_px]

title_x = [253 / W, 710 / W]
title_y_px = [14, 14, 746, 746, 812, 812, 1543, 1543]

fig = go.Figure()
layout = dict(
    width=W, height=H, autosize=False,
    margin=dict(l=0, r=0, t=0, b=0),
    paper_bgcolor="white", plot_bgcolor="white",
    showlegend=False,
    shapes=[], annotations=[],
)

# gray graph-region blocks
for (t, b, l) in [(37, 707, 9), (834, 1504, 10)]:
    layout["shapes"].append(dict(type="rect", xref="paper", yref="paper",
                                 x0=l / W, x1=1, y0=1 - b / H, y1=1 - t / H,
                                 fillcolor=BG, line=dict(width=0), layer="below"))

for i, (zx, ox, mid) in enumerate(panel_data):
    row, col = i // 2, i % 2
    n = "" if i == 0 else str(i + 1)
    xs = list(zx) + list(ox) + [p[0] for p in mid]
    ys = [0] * len(zx) + [1] * len(ox) + [p[1] for p in mid]
    fig.add_trace(go.Scatter(
        x=xs, y=ys, mode="markers", xaxis="x" + n, yaxis="y" + n,
        marker=dict(size=9.3, color=NAVY, line=dict(width=0)),
        hoverinfo="skip", cliponaxis=False))

    axis_common = dict(
        showline=True, linecolor="#222", linewidth=1.5,
        ticks="outside", ticklen=5, tickwidth=1.3, tickcolor="#222",
        tickfont=dict(family=SANS, size=17, color="#111"),
        zeroline=False, mirror=False,
    )
    layout["xaxis" + n] = dict(
        domain=x_domains[col], anchor="y" + n, range=[-2.64, 2.72],
        tickvals=x_tick_vals, ticktext=x_tick_text, showgrid=False,
        title=dict(text="Village Marginality Index", font=dict(family=SANS, size=17, color="#111"), standoff=3),
        **axis_common)
    layout["yaxis" + n] = dict(
        domain=y_domains[row], anchor="x" + n, range=[-0.053, 1.053],
        tickvals=y_tick_vals, ticktext=y_tick_text, tickangle=-90,
        showgrid=True, gridcolor=GRID, gridwidth=1.5,
        title=dict(text="Prop. Beneficiary HHs " + panel_years[i],
                   font=dict(family=SANS, size=17, color="#111"), standoff=3),
        **axis_common)

    # cutoff line, drawn beneath the markers as in the reference
    layout["shapes"].append(dict(type="line", xref="x" + n, yref="y" + n + " domain",
                                 x0=cutoff, x1=cutoff, y0=0, y1=1,
                                 line=dict(color=RED, width=2), layer="below"))

    layout["annotations"].append(dict(
        xref="paper", yref="paper", x=title_x[col], y=1 - title_y_px[i] / H,
        xanchor="center", yanchor="middle", showarrow=False,
        text='<span style="text-decoration:underline">Panel ' + panel_letters[i] + '</span>: Year ' + panel_years[i],
        font=dict(family=SERIF, size=25, color="#111")))

fig.update_layout(**layout)
fig.write_html("out.html", config={"displayModeBar": False},
               post_script="document.body.style.margin='0';")
